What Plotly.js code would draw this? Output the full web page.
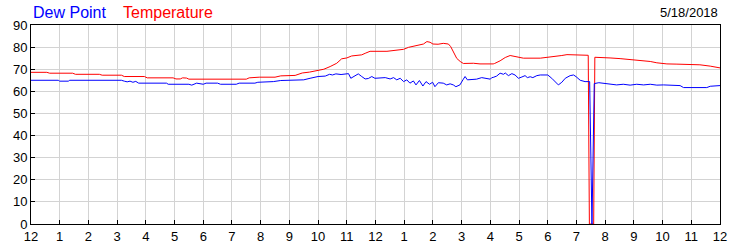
<!DOCTYPE html>
<html>
<head>
<meta charset="utf-8">
<script src="https://cdn.plot.ly/plotly-3.0.1.min.js"></script>
<style>html,body{margin:0;padding:0;background:#fff;}#chart{width:750px;height:250px;}</style>
</head>
<body>
<div id="chart"></div>
<script>
// Hours since midnight (0..24) and readings in °F
const tempHours = [0,0.55,0.65,1.45,1.55,2.38,2.48,3.15,3.25,3.95,4.05,4.95,5.05,5.2,5.28,5.42,5.5,7.5,7.6,7.95,8.5,8.7,9.2,9.45,9.7,9.95,10.2,10.42,10.65,10.82,11.0,11.17,11.35,11.52,11.64,11.81,12.4,12.62,12.98,13.15,13.44,13.67,13.79,13.9,14.0,14.18,14.36,14.54,14.62,14.71,14.83,14.95,15.06,15.41,15.64,16.1,16.15,16.34,16.52,16.69,16.86,17.04,17.15,17.74,17.97,18.26,18.49,18.67,18.9,19.13,19.41,19.45,19.6,19.64,19.82,20.17,20.52,20.87,21.1,21.57,21.8,22.15,22.5,22.96,23.3,23.66,23.95,24];
const tempValues = [68.6,68.6,68.2,68.2,67.7,67.7,67.3,67.3,66.7,66.7,66.1,66.1,65.6,65.6,66.1,66.0,65.5,65.5,66.1,66.4,66.4,67.0,67.2,68.3,68.7,69.3,70.0,71.2,72.7,74.7,75.1,76.0,76.3,76.5,77.2,78.1,78.1,78.4,79.0,79.9,80.8,81.4,82.5,82.2,81.4,81.3,81.7,81.4,80.2,77.9,74.9,73.5,72.6,72.7,72.4,72.4,72.6,73.8,75.3,76.2,75.7,75.3,75.0,75.0,75.3,75.6,76.2,76.6,76.5,76.3,76.3,0,0,75.4,75.4,75.1,74.8,74.4,73.8,73.5,72.9,72.4,72.3,72.3,72.0,71.4,70.7,70.6];

const dewHours = [0,0.95,1.0,1.3,1.35,3.15,3.25,3.35,3.45,3.55,3.65,3.75,4.72,4.78,5.5,5.6,5.77,5.9,6.0,6.1,6.5,6.6,7.15,7.25,7.8,7.9,8.3,8.44,8.7,9.0,9.14,9.5,9.72,10.0,10.25,10.4,10.5,10.62,10.8,11.06,11.14,11.29,11.4,11.52,11.64,11.75,11.87,11.98,12.16,12.34,12.51,12.63,12.74,12.86,12.98,13.09,13.2,13.32,13.41,13.53,13.65,13.76,13.88,13.99,14.07,14.19,14.36,14.48,14.6,14.71,14.8,14.94,15.06,15.12,15.2,15.35,15.52,15.7,15.87,16.0,16.05,16.1,16.22,16.34,16.46,16.52,16.63,16.75,16.86,16.98,17.1,17.21,17.29,17.39,17.48,17.62,17.74,17.86,18.0,18.14,18.26,18.37,18.49,18.61,18.78,18.9,18.99,19.13,19.3,19.46,19.54,19.62,19.78,19.95,20.17,20.4,20.63,20.87,21.1,21.34,21.57,21.8,22.03,22.27,22.5,22.61,22.73,23.54,23.66,24];
const dewValues = [65.0,65.0,64.6,64.6,65.0,65.0,64.6,64.3,64.6,64.1,64.5,63.7,63.7,63.2,63.2,62.8,63.7,63.4,63.2,63.7,63.7,63.2,63.2,63.7,63.7,64.1,64.1,64.4,64.9,64.9,65.2,65.2,65.9,66.7,66.9,67.7,67.4,67.9,67.6,68.0,65.9,66.9,67.9,66.7,65.6,65.8,66.7,65.9,66.1,66.2,65.6,66.2,65.2,65.9,64.4,65.2,63.7,64.7,62.9,64.9,62.4,64.4,63.2,64.1,62.1,63.9,63.7,62.9,63.4,62.9,62.1,62.9,65.5,66.7,65.2,65.2,65.5,66.2,65.8,65.5,66.2,66.3,66.9,68.2,67.7,68.3,67.1,68.0,67.4,65.9,66.5,67.1,66.2,66.6,66.2,67.1,67.4,67.3,67.4,65.9,64.4,62.9,64.1,65.9,67.1,67.4,66.6,65.0,64.4,64.4,0,63.5,63.9,63.6,63.2,62.9,63.2,62.8,63.2,62.9,63.2,62.8,62.9,62.8,62.6,62.6,61.7,61.7,62.3,62.6];

const hourTickValues = [0,1,2,3,4,5,6,7,8,9,10,11,12,13,14,15,16,17,18,19,20,21,22,23,24];
const hourTickLabels = ['12','1','2','3','4','5','6','7','8','9','10','11','12','1','2','3','4','5','6','7','8','9','10','11','12'];
const valueTicks = [0,10,20,30,40,50,60,70,80,90];
const seriesNames = ['Dew Point','Temperature'];
const dateLabel = '5/18/2018';

const FONT = '"Liberation Sans", Arial, sans-serif';

const traces = [
  {x: tempHours, y: tempValues, type: 'scatter', mode: 'lines', name: seriesNames[1],
   line: {color: '#ff0000', width: 1}, hoverinfo: 'skip'},
  {x: dewHours, y: dewValues, type: 'scatter', mode: 'lines', name: seriesNames[0],
   line: {color: '#0000ff', width: 1}, hoverinfo: 'skip'}
];

const layout = {
  width: 750, height: 250,
  margin: {l: 31, r: 30, t: 25, b: 26, pad: 0},
  paper_bgcolor: '#ffffff', plot_bgcolor: '#ffffff',
  showlegend: false,
  font: {family: FONT, size: 13, color: '#000000'},
  xaxis: {
    range: [0, 24], tickmode: 'array', tickvals: hourTickValues, ticktext: hourTickLabels,
    showgrid: true, gridcolor: '#d3d3d3', gridwidth: 1, zeroline: false,
    showline: true, linecolor: '#000000', linewidth: 1, mirror: true,
    ticks: 'inside', ticklen: 4, tickcolor: '#000000',
    tickfont: {family: FONT, size: 13, color: '#000000'}, fixedrange: true
  },
  yaxis: {
    range: [0, 90], tickmode: 'array', tickvals: valueTicks,
    showgrid: true, gridcolor: '#d3d3d3', gridwidth: 1, zeroline: false,
    showline: true, linecolor: '#000000', linewidth: 1, mirror: true,
    ticks: 'inside', ticklen: 4, tickcolor: '#000000',
    tickfont: {family: FONT, size: 13, color: '#000000'}, fixedrange: true
  },
  yaxis2: {
    range: [0, 90], tickmode: 'array', tickvals: valueTicks,
    overlaying: 'y', side: 'right', showgrid: false, zeroline: false,
    showline: false, ticks: 'inside', ticklen: 4, tickcolor: '#000000',
    tickfont: {family: FONT, size: 13, color: '#000000'}, fixedrange: true
  },
  annotations: [
    {text: seriesNames[0], xref: 'paper', yref: 'paper', x: 0, y: 1, xanchor: 'left', yanchor: 'bottom',
     xshift: 0, yshift: 2, showarrow: false, font: {family: FONT, size: 16, color: '#0000ff'}},
    {text: seriesNames[1], xref: 'paper', yref: 'paper', x: 0, y: 1, xanchor: 'left', yanchor: 'bottom',
     xshift: 90, yshift: 2, showarrow: false, font: {family: FONT, size: 16, color: '#ff0000'}},
    {text: dateLabel, xref: 'paper', yref: 'paper', x: 1, y: 1, xanchor: 'right', yanchor: 'bottom',
     xshift: 0, yshift: 3, showarrow: false, font: {family: FONT, size: 13, color: '#000000'}}
  ]
};

Plotly.newPlot('chart', traces, layout, {displayModeBar: false, staticPlot: true});
</script>
</body>
</html>
